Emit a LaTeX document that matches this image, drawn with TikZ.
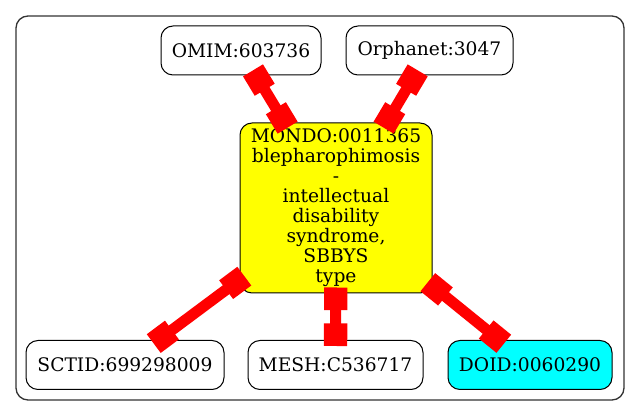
\documentclass[tikz,border=0pt]{standalone}
\usepackage{fontspec}
\setmainfont{DejaVu Serif}
\usetikzlibrary{arrows.meta}
\definecolor{mondoyellow}{RGB}{255,255,0}
\definecolor{doidcyan}{RGB}{0,255,255}
\begin{document}
\begin{tikzpicture}[x=0.75pt,y=-0.75pt,
    term/.style={draw, rounded corners=9pt, line width=0.75pt, inner sep=0pt,
        minimum height=36.75pt, font=\fontsize{14pt}{15pt}\selectfont, align=center},
    link/.style={draw=red, line width=8.25pt, shorten <=-4.5pt, shorten >=-4.5pt,
        {Square[length=17pt,width=17.5pt]}-{Square[length=17pt,width=17.5pt]}}]
    \useasboundingbox (0,0) rectangle (640,416);
    \draw[rounded corners=9pt, line width=1pt, black!80] (16,16) rectangle (624,400);

    \node[term, minimum width=120pt] (omim) at (241,50.5) {OMIM:603736};
    \node[term, minimum width=125.25pt] (orphanet) at (429.5,50.5) {Orphanet:3047};
    \node[term, fill=mondoyellow, minimum width=144pt, minimum height=127.5pt] (mondo) at (336,208)
        {MONDO:0011365\\blepharophimosis\\-\\intellectual\\disability\\syndrome,\\SBBYS\\type};
    \node[term, minimum width=148.5pt] (sctid) at (125,365) {SCTID:699298009};
    \node[term, minimum width=131.25pt] (mesh) at (335.5,365) {MESH:C536717};
    \node[term, fill=doidcyan, minimum width=123pt] (doid) at (530,365) {DOID:0060290};

    \draw[link] (omim) -- (mondo);
    \draw[link] (orphanet) -- (mondo);
    \draw[link] (mondo) -- (sctid);
    \draw[link] (mondo) -- (mesh);
    \draw[link] (mondo) -- (doid);
\end{tikzpicture}
\end{document}
